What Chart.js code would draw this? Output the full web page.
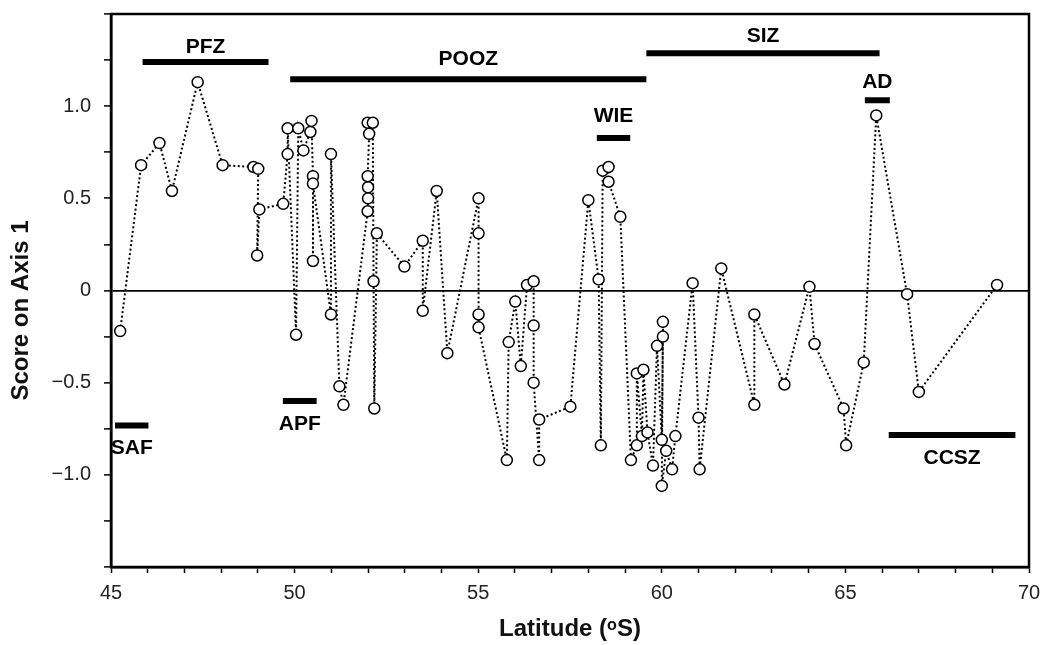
<!DOCTYPE html>
<html>
<head>
<meta charset="utf-8">
<script src="https://cdn.jsdelivr.net/npm/chart.js@4.4.1/dist/chart.umd.min.js"></script>
<style>
  html, body { margin: 0; padding: 0; background: #fff; }
  #wrap { width: 1040px; height: 645px; }
</style>
</head>
<body>
<div id="wrap"><canvas id="axisChart" width="1040" height="645"></canvas></div>
<script>
// station latitude (°S) and score on axis 1, in the order the dotted line joins them
const latitude = [
  45.25, 45.82, 46.32, 46.66, 47.36, 48.04, 48.88, 49.01, 48.98, 49.04,
  49.69, 49.81, 49.81, 50.04, 50.10, 50.24, 50.43, 50.46, 50.50, 50.50,
  50.50, 50.99, 50.99, 51.22, 51.33, 51.99, 52.00, 52.00, 51.99, 52.03,
  51.99, 52.13, 52.15, 52.17, 52.24, 52.99, 53.49, 53.49, 53.87, 54.16,
  55.01, 55.01, 55.01, 55.01, 55.78, 55.83, 56.01, 56.16, 56.33, 56.51,
  56.51, 56.51, 56.66, 56.66, 57.51, 58.00, 58.28, 58.34, 58.39, 58.55,
  58.55, 58.87, 59.16, 59.32, 59.32, 59.46, 59.50, 59.61, 59.76, 59.87,
  60.00, 60.03, 60.03, 60.00, 60.12, 60.28, 60.37, 60.84, 61.00, 61.03,
  61.62, 62.52, 62.52, 63.34, 64.02, 64.16, 64.95, 65.02, 65.50, 65.84,
  66.68, 67.00, 69.13
];
const score = [
  -0.22, 0.68, 0.80, 0.54, 1.13, 0.68, 0.67, 0.66, 0.19, 0.44,
  0.47, 0.74, 0.88, -0.24, 0.88, 0.76, 0.86, 0.92, 0.62, 0.16,
  0.58, -0.13, 0.74, -0.52, -0.62, 0.43, 0.50, 0.56, 0.62, 0.85,
  0.91, 0.91, 0.05, -0.64, 0.31, 0.13, 0.27, -0.11, 0.54, -0.34,
  0.50, 0.31, -0.13, -0.20, -0.92, -0.28, -0.06, -0.41, 0.03, 0.05,
  -0.19, -0.50, -0.92, -0.70, -0.63, 0.49, 0.06, -0.84, 0.65, 0.67,
  0.59, 0.40, -0.92, -0.84, -0.45, -0.79, -0.43, -0.77, -0.95, -0.30,
  -0.81, -0.25, -0.17, -1.06, -0.87, -0.97, -0.79, 0.04, -0.69, -0.97,
  0.12, -0.62, -0.13, -0.51, 0.02, -0.29, -0.64, -0.84, -0.39, 0.95,
  -0.02, -0.55, 0.03
];

// frontal zones: latitude extent, score level of each bar and of its name
const zoneNames      = ["PFZ", "POOZ", "SIZ", "AD", "WIE", "SAF", "APF", "CCSZ"];
const zoneFrom       = [45.86, 49.88, 59.58, 65.53, 58.23, 45.11, 49.68, 66.18];
const zoneTo         = [49.29, 59.58, 65.93, 66.21, 59.14, 46.02, 50.60, 69.63];
const zoneScore      = [1.24, 1.146, 1.287, 1.032, 0.827, -0.733, -0.60, -0.784];
const zoneLabelScore = [1.318, 1.254, 1.38, 1.13, 0.947, -0.853, -0.726, -0.91];

const xTickLabels = [45, 50, 55, 60, 65, 70];
const yTickLabels = [-1.0, -0.5, 0, 0.5, 1.0];

const points = latitude.map((lat, i) => ({ x: lat, y: score[i] }));

function fmtScore(v) {
  if (v === 0) return "0";
  return (v < 0 ? "\u2212" : "") + Math.abs(v).toFixed(1);
}

const frame = {
  id: "frame",
  afterDraw(chart) {
    const { ctx, chartArea: a } = chart;
    ctx.save();
    ctx.strokeStyle = "#000";
    ctx.lineWidth = 2.5;
    ctx.strokeRect(a.left, a.top, a.right - a.left, a.bottom - a.top);
    ctx.restore();
  }
};

const zones = {
  id: "zones",
  afterDatasetsDraw(chart) {
    const { ctx } = chart;
    const xs = chart.scales.x, ys = chart.scales.y;
    ctx.save();
    ctx.strokeStyle = "#000";
    ctx.fillStyle = "#000";
    ctx.lineWidth = 6;
    ctx.lineCap = "butt";
    ctx.font = "bold 21px 'Liberation Sans', Arial, sans-serif";
    ctx.textAlign = "center";
    ctx.textBaseline = "middle";
    zoneNames.forEach((name, i) => {
      const x0 = xs.getPixelForValue(zoneFrom[i]);
      const x1 = xs.getPixelForValue(zoneTo[i]);
      const y = ys.getPixelForValue(zoneScore[i]);
      ctx.beginPath();
      ctx.moveTo(x0, y);
      ctx.lineTo(x1, y);
      ctx.stroke();
      ctx.fillText(name, (x0 + x1) / 2, ys.getPixelForValue(zoneLabelScore[i]));
    });
    ctx.restore();
  }
};

new Chart(document.getElementById("axisChart").getContext("2d"), {
  type: "scatter",
  data: {
    datasets: [{
      data: points,
      showLine: true,
      borderColor: "#000",
      borderWidth: 2,
      borderDash: [2, 2.5],
      pointRadius: 5.5,
      pointHoverRadius: 5.5,
      pointBackgroundColor: "#fff",
      pointBorderColor: "#000",
      pointBorderWidth: 1.5
    }]
  },
  options: {
    responsive: false,
    animation: false,
    devicePixelRatio: 1,
    layout: { padding: { top: 14, right: 11, left: 0, bottom: 0 } },
    plugins: { legend: { display: false }, tooltip: { enabled: false } },
    scales: {
      x: {
        type: "linear",
        min: 45,
        max: 70,
        afterFit: s => { s.height = 78; s.paddingLeft = 0; s.paddingRight = 0; },
        border: { display: true, color: "#000", width: 2.5 },
        grid: { drawOnChartArea: false, drawTicks: true, tickLength: 6, tickColor: "#000", tickWidth: 1.5 },
        ticks: {
          stepSize: 1,
          autoSkip: false,
          maxRotation: 0,
          padding: 8,
          color: "#222",
          font: { family: "'Liberation Sans', Arial, sans-serif", size: 20 },
          callback: v => xTickLabels.includes(v) ? String(v) : ""
        },
        title: {
          display: true,
          text: "Latitude (\u1D52S)",
          color: "#111",
          font: { family: "'Liberation Sans', Arial, sans-serif", size: 24, weight: "bold" },
          padding: { top: 0, bottom: 1 }
        }
      },
      y: {
        type: "linear",
        min: -1.5,
        max: 1.5,
        afterFit: s => { s.width = 111; s.paddingTop = 0; s.paddingBottom = 0; },
        border: { display: true, color: "#000", width: 2.5 },
        grid: {
          drawTicks: true,
          tickLength: 7,
          tickColor: "#000",
          tickWidth: 1.5,
          lineWidth: 1.8,
          color: c => (c.tick && c.tick.value === 0) ? "#000" : "rgba(0,0,0,0)"
        },
        ticks: {
          stepSize: 0.25,
          autoSkip: false,
          padding: 13,
          color: "#222",
          font: { family: "'Liberation Sans', Arial, sans-serif", size: 20 },
          callback: v => yTickLabels.some(t => Math.abs(t - v) < 1e-6) ? fmtScore(v) : ""
        },
        title: {
          display: true,
          // trailing spaces push the rotated title a little below the middle, as in the original
          text: "Score on Axis 1      ",
          color: "#111",
          font: { family: "'Liberation Sans', Arial, sans-serif", size: 24, weight: "bold" },
          padding: { top: 7, bottom: 0 }
        }
      }
    }
  },
  plugins: [frame, zones]
});
</script>
</body>
</html>
